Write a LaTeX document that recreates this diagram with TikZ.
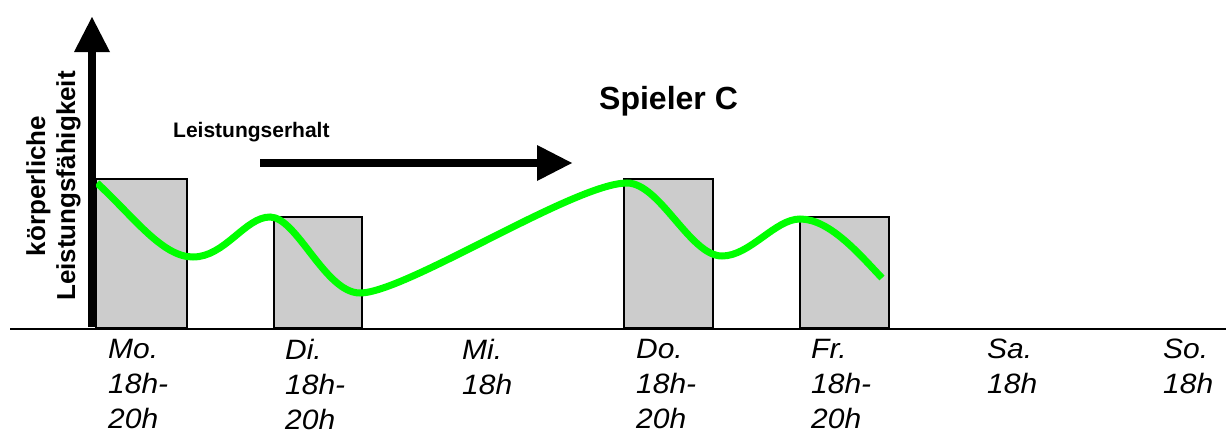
\documentclass[tikz,border=0pt]{standalone}
\usepackage{fontspec}
\setmainfont{Liberation Sans}
\newfontfamily\dayfont[FakeStretch=1.07]{Liberation Sans}
\usetikzlibrary{arrows.meta}
\definecolor{bargray}{HTML}{CCCCCC}
\definecolor{lgreen}{HTML}{00FF00}
\begin{document}
\begin{tikzpicture}[x=1pt,y=-1pt,
  bar/.style={draw=black, line width=2pt, fill=bargray, inner sep=0pt, anchor=south west},
  bigarrow/.style={line width=8pt, -{Triangle[length=35pt,width=36pt,line width=0pt]}},
  day/.style={font=\dayfont\fontsize{28}{35}\selectfont\itshape, align=left, anchor=north west, inner sep=0pt},
  curve/.style={draw=lgreen, line width=7pt},
  lbl/.style={anchor=base west, inner sep=0pt}]
\useasboundingbox (0,0) rectangle (1226,434);
% bars
\node[bar, minimum width=91pt, minimum height=149pt] (mo) at (95,329) {};
\node[bar, minimum width=88pt, minimum height=111pt] (di) at (273,329) {};
\node[bar, minimum width=89pt, minimum height=149pt] (do) at (623,329) {};
\node[bar, minimum width=89pt, minimum height=111pt] (fr) at (799,329) {};
% axis
\coordinate (axL) at (10,329);
\coordinate (axR) at (1226,329);
\draw[line width=2pt] (axL) -- (axR);
% curve
\draw[curve] (97,183) .. controls (133,216) and (162,257) .. (193,257)
 .. controls (225,257) and (245,217) .. (270,217)
 .. controls (297,217) and (325,293) .. (360,293)
 .. controls (405,293) and (575,183) .. (627,183)
 .. controls (660,183) and (690,256) .. (722,256)
 .. controls (750,256) and (775,219) .. (800,219)
 .. controls (830,219) and (860,255) .. (882,278);
% arrows
\coordinate (ya0) at (92,327);
\coordinate (ya1) at (92,17);
\draw[bigarrow] (ya0) -- (ya1);
\coordinate (ha0) at (260,163);
\coordinate (ha1) at (572,163);
\draw[bigarrow] (ha0) -- (ha1);
% texts
\node[lbl, font=\fontsize{32}{38}\selectfont\bfseries] (title) at (599,109) {Spieler C};
\node[lbl, font=\fontsize{21}{25}\selectfont\bfseries] (le) at (173,137) {Leistungserhalt};
\node[font=\fontsize{26}{30}\selectfont\bfseries, rotate=90, align=center, inner sep=0pt] (ylab) at (53.5,186) {körperliche\\Leistungsfähigkeit};
\node[day] (dmo) at (108,339) {Mo.\\18h-\\20h};
\node[day] (ddi) at (285,339) {Di.\\18h-\\20h};
\node[day] (dmi) at (462,339) {Mi.\\18h};
\node[day] (ddo) at (636,339) {Do.\\18h-\\20h};
\node[day] (dfr) at (811,339) {Fr.\\18h-\\20h};
\node[day] (dsa) at (987,339) {Sa.\\18h};
\node[day] (dso) at (1163,339) {So.\\18h};
\end{tikzpicture}
\end{document}
